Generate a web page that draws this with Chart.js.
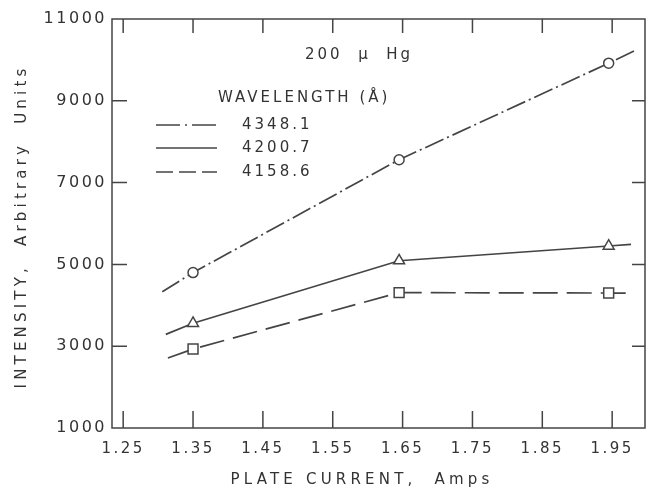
<!DOCTYPE html>
<html><head><meta charset="utf-8">
<script src="https://cdn.jsdelivr.net/npm/chart.js@4"></script>
<style>html,body{margin:0;padding:0;background:#fff}#wrap{width:651px;height:494px}</style>
</head><body><div id="wrap"><canvas id="c" width="651" height="494"></canvas></div>
<script>
// ---- data ----
const xTicks = [1.25, 1.35, 1.45, 1.55, 1.65, 1.75, 1.85, 1.95];
const yTicks = [1000, 3000, 5000, 7000, 9000, 11000];
const seriesNames = ['4348.1', '4200.7', '4158.6'];
const currentA = [1.306, 1.35, 1.645, 1.945, 1.983];
const intensityA = [4330, 4800, 7560, 9920, 10230];
const currentB = [1.311, 1.35, 1.645, 1.945, 1.977];
const intensityB = [3290, 3560, 5090, 5450, 5490];
const currentC = [1.314, 1.35, 1.645, 1.945, 1.977];
const intensityC = [2710, 2930, 4310, 4300, 4300];
const pressureNote = '200  \u03bc  Hg';
const legendTitle = 'WAVELENGTH (\u00c5)';
const xTitle = 'PLATE CURRENT,  Amps';
const yTitle = 'INTENSITY,  Arbitrary  Units';

const INK = '#444444', TXT = '#333333';
const FONT = '"DejaVu Sans", sans-serif';
const DASHDOT = [20, 4, 2, 4], DASHED = [25, 9];

function ds(label, xs, ys, dash, style, r) {
  return {
    label, data: xs.map((v, i) => ({x: v, y: ys[i]})),
    borderColor: INK, borderWidth: 1.7, borderDash: dash,
    pointStyle: style,
    pointRadius: c => (c.dataIndex === 0 || c.dataIndex === xs.length - 1) ? 0 : r,
    pointBackgroundColor: '#fff', pointBorderColor: INK, pointBorderWidth: 1.5,
    tension: 0, fill: false
  };
}

const frame = {
  id: 'frame',
  beforeDraw(chart) { chart.ctx.letterSpacing = '2.5px'; },
  afterDraw(chart) {
    const {ctx, chartArea: a, scales: {x, y}} = chart;
    ctx.save();
    ctx.strokeStyle = INK; ctx.lineWidth = 1.5;
    ctx.strokeRect(a.left, a.top, a.right - a.left, a.bottom - a.top);
    ctx.beginPath();
    x.ticks.forEach(t => {
      const px = x.getPixelForValue(t.value);
      ctx.moveTo(px, a.bottom); ctx.lineTo(px, a.bottom - 17);
      ctx.moveTo(px, a.top); ctx.lineTo(px, a.top + 14);
    });
    y.ticks.forEach(t => {
      if (t.value <= y.min || t.value >= y.max) return;
      const py = y.getPixelForValue(t.value);
      ctx.moveTo(a.left, py); ctx.lineTo(a.left + 15, py);
      ctx.moveTo(a.right, py); ctx.lineTo(a.right - 13, py);
    });
    ctx.stroke();

    // axis titles
    ctx.fillStyle = TXT;
    ctx.font = '15px ' + FONT;
    ctx.letterSpacing = '4.2px';
    ctx.textAlign = 'center'; ctx.textBaseline = 'middle';
    ctx.fillText(xTitle, a.left + 250, 480);
    ctx.save();
    ctx.translate(22, (a.top + a.bottom) / 2 + 3);
    ctx.rotate(-Math.PI / 2);
    ctx.fillText(yTitle, 0, 0);
    ctx.restore();

    // annotation + legend
    ctx.letterSpacing = '3px';
    ctx.textAlign = 'left';
    ctx.fillText(pressureNote, a.left + 193, a.top + 36);
    ctx.fillText(legendTitle, a.left + 106, a.top + 79);
    const rows = [a.top + 106, a.top + 129, a.top + 153];
    const legDash = [[24, 5, 2, 5], [], [17, 6]];
    chart.data.datasets.forEach((d, i) => {
      ctx.setLineDash(legDash[i]);
      ctx.lineWidth = 1.7;
      ctx.beginPath();
      ctx.moveTo(a.left + 44, rows[i]); ctx.lineTo(a.left + 105, rows[i]);
      ctx.stroke();
      ctx.fillText(d.label, a.left + 130, rows[i]);
    });
    ctx.restore();
  }
};

new Chart(document.getElementById('c'), {
  type: 'line',
  data: {
    datasets: [
      ds(seriesNames[0], currentA, intensityA, DASHDOT, 'circle', 5),
      ds(seriesNames[1], currentB, intensityB, [], 'triangle', 6.3),
      ds(seriesNames[2], currentC, intensityC, DASHED, 'rect', 7)
    ]
  },
  options: {
    responsive: false, animation: false, devicePixelRatio: 1,
    layout: {padding: {left: 0, right: 6, top: 19, bottom: 0}},
    plugins: {legend: {display: false}, tooltip: {enabled: false}},
    scales: {
      x: {
        type: 'linear', min: 1.234, max: 1.997,
        afterBuildTicks: s => { s.ticks = xTicks.map(v => ({value: v})); },
        afterFit: s => { s.height = 66; },
        grid: {display: false, drawTicks: false}, border: {display: false},
        ticks: {color: TXT, font: {family: FONT, size: 15}, padding: 12,
                autoSkip: false, maxRotation: 0, callback: v => Number(v).toFixed(2)}
      },
      y: {
        type: 'linear', min: 1000, max: 11000,
        afterBuildTicks: s => { s.ticks = yTicks.map(v => ({value: v})); },
        afterFit: s => { s.width = 112; },
        grid: {display: false, drawTicks: false}, border: {display: false},
        ticks: {color: TXT, font: {family: FONT, size: 16}, padding: 5,
                callback: v => String(v)}
      }
    }
  },
  plugins: [frame]
});
</script></body></html>
